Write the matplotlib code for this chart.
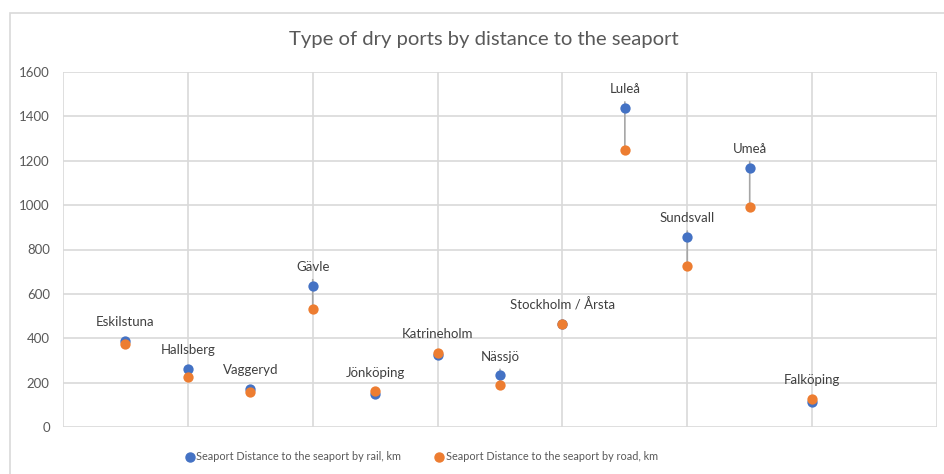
import matplotlib
matplotlib.use("Agg")
import matplotlib.pyplot as plt
from matplotlib.lines import Line2D
from matplotlib.patches import Rectangle
from matplotlib.transforms import offset_copy

plt.rcParams['font.family'] = ['Lato', 'DejaVu Sans']

# Dry ports, in the order they sit along the x axis (1..12)
ports = ['Eskilstuna', 'Hallsberg', 'Vaggeryd', 'Gävle', 'Jönköping', 'Katrineholm',
         'Nässjö', 'Stockholm / Årsta', 'Luleå', 'Sundsvall', 'Umeå', 'Falköping']
x_pos = [1, 2, 3, 4, 5, 6, 7, 8, 9, 10, 11, 12]
rail_km = [388, 261, 171, 637, 150, 324, 233, 463, 1438, 856, 1169, 114]
road_km = [375, 225, 159, 533, 161, 335, 189, 465, 1248, 724, 990, 128]

rail_label = 'Seaport Distance to the seaport by rail, km'
road_label = 'Seaport Distance to the seaport by road, km'
title = 'Type of dry ports by distance to the seaport'

BLUE = '#4472C4'
ORANGE = '#ED7D31'
GRID = '#D9D9D9'
TEXT = '#595959'

W, H = 945, 474
fig = plt.figure(figsize=(W / 100, H / 100), dpi=100)
ax = fig.add_axes([63 / W, 1 - 427 / H, (937 - 63) / W, (427 - 72) / H])

# outer chart border (runs off the right / bottom edge of the image)
fig.patches.append(Rectangle((10 / W, -0.1), 1.2, 1 - 13 / H + 0.1, transform=fig.transFigure,
                             fill=False, edgecolor=GRID, linewidth=1.2, zorder=0))

ax.set_xlim(0, 14)
ax.set_ylim(0, 1600)
ax.set_xticks(range(0, 15, 2))
ax.set_yticks(range(0, 1601, 200))
ax.grid(True, color=GRID, linewidth=1.2)
ax.set_axisbelow(True)
for s in ax.spines.values():
    s.set_visible(False)
ax.tick_params(axis='x', length=0, labelbottom=False)
ax.tick_params(axis='y', length=0, labelsize=9.5, labelcolor=TEXT, pad=9.5)

ax.scatter(x_pos, rail_km, s=55, color=BLUE, zorder=4, linewidths=0)
ax.scatter(x_pos, road_km, s=55, color=ORANGE, zorder=5, linewidths=0)

# leader lines start a few pixels under the label
above = offset_copy(ax.transData, fig=fig, y=6, units='dots')

# data labels sit above the higher point; leader line to the road point when far away
for xp, name, r1, r2 in zip(x_pos, ports, rail_km, road_km):
    top = max(r1, r2)
    ax.annotate(name, xy=(xp, top), xytext=(0, 13.5), textcoords='offset points',
                ha='center', va='center', fontsize=9.5, color='#404040', zorder=6)
    if r1 - r2 > 40:
        ax.annotate('', xy=(xp, r2), xycoords='data',
                    xytext=(xp, top), textcoords=above,
                    arrowprops=dict(arrowstyle='-', color='#A6A6A6', lw=1.2,
                                    shrinkA=0, shrinkB=0),
                    zorder=3)

fig.text(484 / W, 1 - 40 / H, title, ha='center', va='center', fontsize=14.6, color=TEXT)

handles = [Line2D([], [], marker='o', linestyle='', color=BLUE, markersize=6.5),
           Line2D([], [], marker='o', linestyle='', color=ORANGE, markersize=6.5)]
fig.legend(handles, [rail_label, road_label], loc='center', bbox_to_anchor=(421 / W, 1 - 457 / H),
           ncol=2, frameon=False, fontsize=7.8, handletextpad=0.1, columnspacing=3.0,
           labelcolor=TEXT, handlelength=1.0)

fig.savefig('out.png', dpi=100)
